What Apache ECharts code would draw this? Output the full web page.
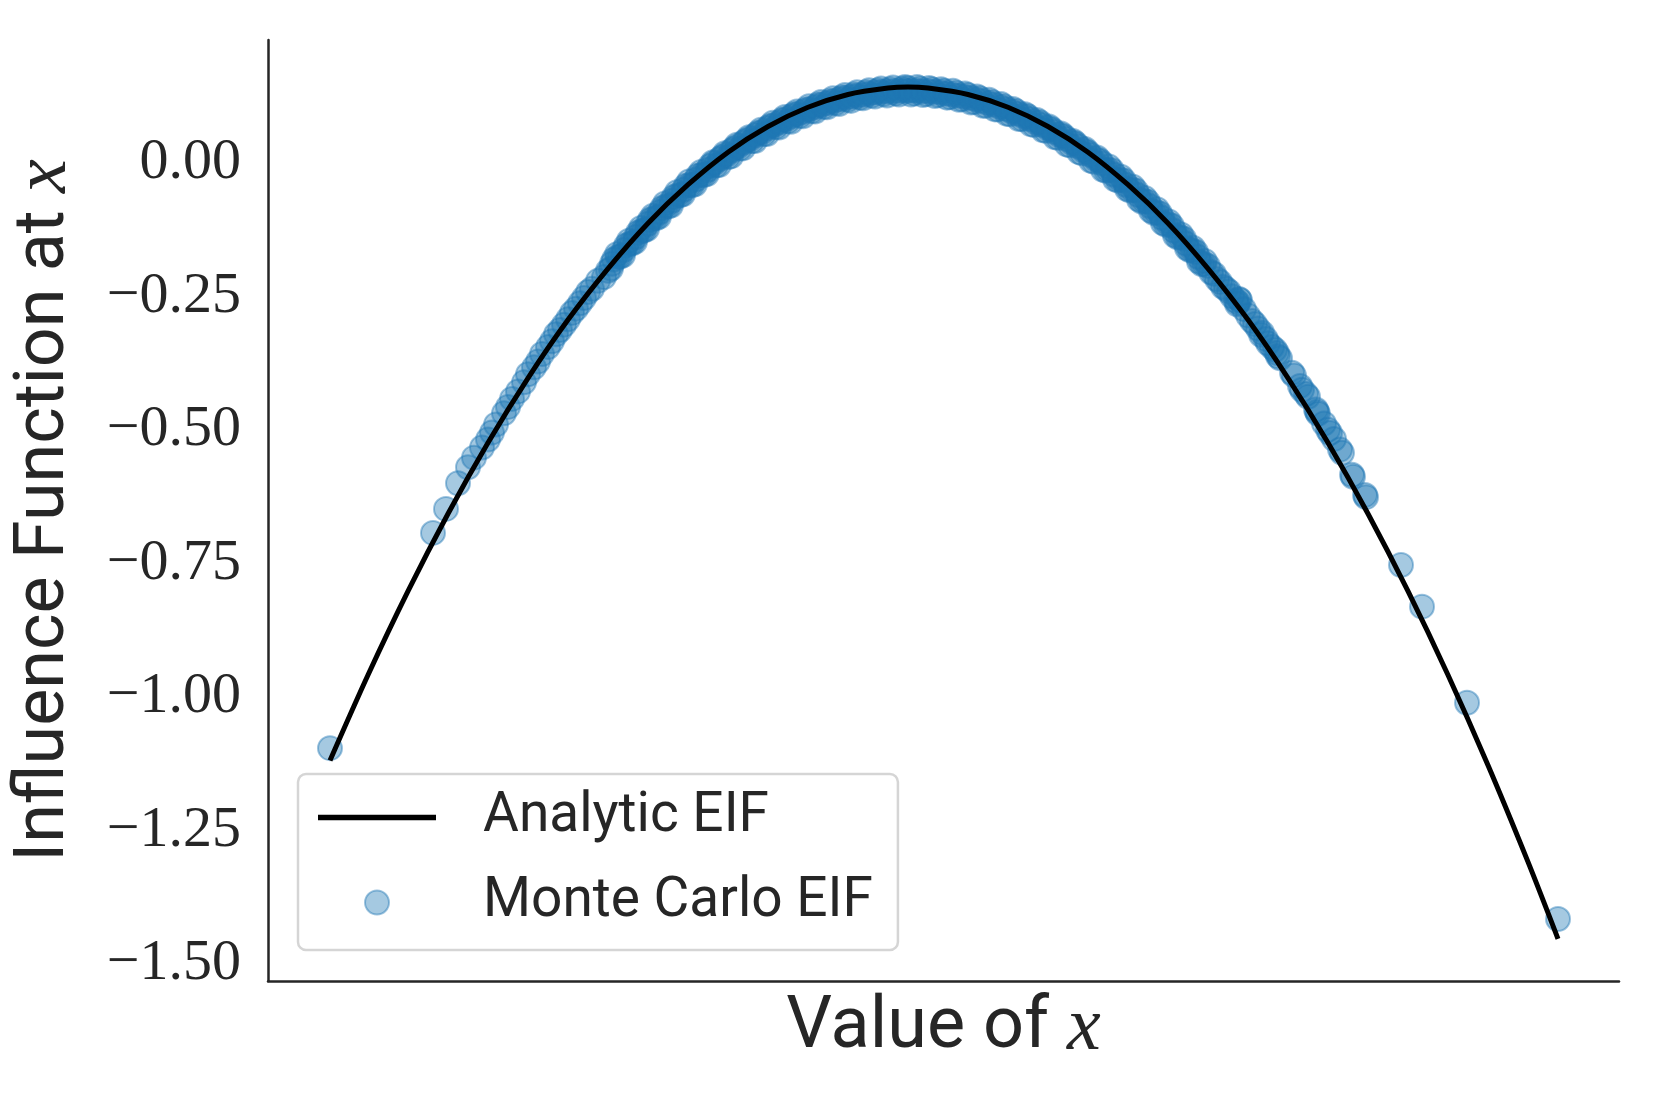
<!DOCTYPE html>
<html>
<head>
<meta charset="utf-8">
<title>Influence Function</title>
<script src="https://cdn.jsdelivr.net/npm/echarts@6.0.0/dist/echarts.min.js"></script>
<style>
  html, body { margin: 0; padding: 0; background: #fff; }
  #chart { width: 1661px; height: 1107px; }
</style>
</head>
<body>
<div id="chart"></div>
<script>
// analytic EIF curve
const analyticX = [-2.89, -2.7, -2.5, -2.3, -2.1, -1.9, -1.7, -1.5, -1.3, -1.1, -0.9, -0.7, -0.5, -0.3, -0.1, 0,
  0.1, 0.3, 0.5, 0.7, 0.9, 1.1, 1.3, 1.5, 1.7, 1.9, 2.1, 2.3, 2.5, 2.7, 2.9, 3.1, 3.25];
const analyticY = [-1.119, -0.959, -0.802, -0.657, -0.524, -0.403, -0.294, -0.198, -0.113, -0.041, 0.020, 0.068, 0.104, 0.128, 0.140, 0.142,
  0.140, 0.128, 0.104, 0.068, 0.020, -0.041, -0.113, -0.198, -0.294, -0.403, -0.524, -0.657, -0.802, -0.959, -1.128, -1.309, -1.453];

// Monte Carlo EIF samples (left tail, dense middle, right tail)
const monteCarloX = [
  // left tail
  -2.89, -2.375, -2.31, -2.25, -2.20, -2.17, -2.13, -2.10, -2.08, -2.06, -2.02, -2.00, -1.98, -1.95, -1.92, -1.90,
  -1.87, -1.85, -1.83, -1.80, -1.78, -1.76, -1.74, -1.72, -1.70, -1.68, -1.66, -1.64, -1.62, -1.60, -1.58, -1.55, -1.52,
  // middle, first pass
  -1.50, -1.47, -1.44, -1.41, -1.38, -1.35, -1.32, -1.29, -1.26, -1.23, -1.20, -1.17, -1.14, -1.11, -1.08, -1.05,
  -1.02, -0.99, -0.96, -0.93, -0.90, -0.87, -0.84, -0.81, -0.78, -0.75, -0.72, -0.69, -0.66, -0.63, -0.60, -0.57,
  -0.54, -0.51, -0.48, -0.45, -0.42, -0.39, -0.36, -0.33, -0.30, -0.27, -0.24, -0.21, -0.18, -0.15, -0.12, -0.09,
  -0.06, -0.03,
  0.00, 0.03, 0.06, 0.09, 0.12, 0.15, 0.18, 0.21, 0.24, 0.27, 0.30, 0.33, 0.36, 0.39, 0.42, 0.45, 0.48, 0.51,
  0.54, 0.57, 0.60, 0.63, 0.66, 0.69, 0.72, 0.75, 0.78, 0.81, 0.84, 0.87, 0.90, 0.93, 0.96, 0.99, 1.02, 1.05,
  1.08, 1.11, 1.14, 1.17, 1.20, 1.23, 1.26, 1.29, 1.32, 1.35, 1.38, 1.41, 1.44, 1.47, 1.50,
  // middle, second pass
  -1.485, -1.455, -1.425, -1.395, -1.365, -1.335, -1.305, -1.275, -1.245, -1.215, -1.185, -1.155, -1.125, -1.095,
  -1.065, -1.035, -1.005, -0.975, -0.945, -0.915, -0.885, -0.855, -0.825, -0.795, -0.765, -0.735, -0.705, -0.675,
  -0.645, -0.615, -0.585, -0.555, -0.525, -0.495, -0.465, -0.435, -0.405, -0.375, -0.345, -0.315, -0.285, -0.255,
  -0.225, -0.195, -0.165, -0.135, -0.105, -0.075, -0.045, -0.015,
  0.015, 0.045, 0.075, 0.105, 0.135, 0.165, 0.195, 0.225, 0.255, 0.285, 0.315, 0.345, 0.375, 0.405, 0.435, 0.465,
  0.495, 0.525, 0.555, 0.585, 0.615, 0.645, 0.675, 0.705, 0.735, 0.765, 0.795, 0.825, 0.855, 0.885, 0.915, 0.945,
  0.975, 1.005, 1.035, 1.065, 1.095, 1.125, 1.155, 1.185, 1.215, 1.245, 1.275, 1.305, 1.335, 1.365, 1.395, 1.425,
  1.455, 1.485,
  // middle, third pass
  -1.48, -1.45, -1.42, -1.39, -1.36, -1.33, -1.30, -1.27, -1.24, -1.21, -1.18, -1.15, -1.12, -1.09, -1.06, -1.03,
  -1.00, -0.97, -0.94, -0.91, -0.88, -0.85, -0.82, -0.79, -0.76, -0.73, -0.70, -0.67, -0.64, -0.61, -0.58, -0.55,
  -0.52, -0.49, -0.46, -0.43, -0.40, -0.37, -0.34, -0.31, -0.28, -0.25, -0.22, -0.19, -0.16, -0.13, -0.10, -0.07,
  -0.04, -0.01,
  0.01, 0.04, 0.07, 0.10, 0.13, 0.16, 0.19, 0.22, 0.25, 0.28, 0.31, 0.34, 0.37, 0.40, 0.43, 0.46, 0.49, 0.52,
  0.55, 0.58, 0.61, 0.64, 0.67, 0.70, 0.73, 0.76, 0.79, 0.82, 0.85, 0.88, 0.91, 0.94, 0.97, 1.00, 1.03, 1.06,
  1.09, 1.12, 1.15, 1.18, 1.21, 1.24, 1.27, 1.30, 1.33, 1.36, 1.39, 1.42, 1.45, 1.48,
  // right tail
  1.515, 1.53, 1.545, 1.56, 1.575, 1.59, 1.605, 1.62, 1.64, 1.645, 1.65, 1.655, 1.66, 1.68, 1.70, 1.72, 1.735, 1.75,
  1.765, 1.77, 1.79, 1.80, 1.82, 1.835, 1.845, 1.85, 1.86, 1.92, 1.93, 1.96, 1.97, 1.99, 2.00, 2.04, 2.045, 2.05,
  2.08, 2.10, 2.11, 2.13, 2.16, 2.17, 2.22, 2.225, 2.285, 2.29, 2.465, 2.57, 2.795, 3.25
];
const monteCarloY = [
  // left tail
  -1.096, -0.693, -0.648, -0.600, -0.570, -0.552, -0.533, -0.518, -0.505, -0.490, -0.469, -0.457, -0.442, -0.428, -0.411, -0.396,
  -0.383, -0.372, -0.358, -0.345, -0.334, -0.321, -0.313, -0.303, -0.293, -0.281, -0.273, -0.263, -0.253, -0.242, -0.236, -0.221, -0.214,
  // middle, first pass
  -0.202, -0.181, -0.176, -0.155, -0.151, -0.131, -0.127, -0.107, -0.104, -0.085, -0.082, -0.064, -0.061, -0.043, -0.042, -0.024,
  -0.023, -0.006, -0.005, 0.011, 0.011, 0.027, 0.027, 0.042, 0.041, 0.056, 0.054, 0.069, 0.067, 0.080, 0.078, 0.091,
  0.088, 0.100, 0.097, 0.109, 0.105, 0.116, 0.112, 0.123, 0.118, 0.128, 0.122, 0.132, 0.126, 0.136, 0.129, 0.138,
  0.130, 0.139,
  0.140, 0.130, 0.139, 0.129, 0.138, 0.127, 0.135, 0.123, 0.131, 0.119, 0.127, 0.114, 0.121, 0.107, 0.114, 0.100, 0.106, 0.091,
  0.097, 0.082, 0.087, 0.071, 0.076, 0.060, 0.063, 0.047, 0.050, 0.033, 0.036, 0.018, 0.020, 0.002, 0.004, -0.015, -0.014, -0.033,
  -0.033, -0.052, -0.052, -0.073, -0.073, -0.094, -0.095, -0.116, -0.118, -0.140, -0.142, -0.164, -0.167, -0.190, -0.193,
  // middle, second pass
  -0.198, -0.171, -0.173, -0.146, -0.148, -0.122, -0.124, -0.099, -0.101, -0.076, -0.080, -0.055, -0.059, -0.035,
  -0.040, -0.017, -0.021, 0.001, -0.004, 0.018, 0.012, 0.034, 0.027, 0.048, 0.041, 0.062, 0.054, 0.075,
  0.066, 0.086, 0.077, 0.096, 0.087, 0.106, 0.096, 0.114, 0.104, 0.121, 0.110, 0.127, 0.116, 0.132,
  0.121, 0.136, 0.124, 0.139, 0.126, 0.141, 0.128, 0.142,
  0.128, 0.142, 0.127, 0.140, 0.125, 0.138, 0.122, 0.135, 0.118, 0.130, 0.113, 0.124, 0.107, 0.118, 0.100, 0.110,
  0.092, 0.101, 0.082, 0.091, 0.072, 0.080, 0.061, 0.068, 0.048, 0.055, 0.034, 0.041, 0.020, 0.026, 0.004, 0.010,
  -0.013, -0.007, -0.031, -0.026, -0.049, -0.045, -0.069, -0.066, -0.090, -0.087, -0.113, -0.110, -0.136, -0.134, -0.160, -0.159,
  -0.185, -0.184,
  // middle, third pass
  -0.189, -0.176, -0.163, -0.151, -0.139, -0.127, -0.114, -0.103, -0.092, -0.081, -0.071, -0.060, -0.050, -0.041, -0.031, -0.022,
  -0.013, -0.001, 0.007, 0.015, 0.023, 0.031, 0.038, 0.045, 0.052, 0.058, 0.065, 0.071, 0.076, 0.082, 0.087, 0.092,
  0.096, 0.101, 0.105, 0.109, 0.112, 0.116, 0.119, 0.122, 0.124, 0.126, 0.128, 0.130, 0.132, 0.133, 0.134, 0.134,
  0.135, 0.135,
  0.135, 0.135, 0.134, 0.134, 0.133, 0.132, 0.130, 0.128, 0.126, 0.124, 0.122, 0.119, 0.116, 0.112, 0.109, 0.105, 0.101, 0.096,
  0.092, 0.087, 0.082, 0.076, 0.071, 0.065, 0.058, 0.052, 0.045, 0.038, 0.031, 0.023, 0.015, 0.007, -0.001, -0.013, -0.022, -0.031,
  -0.041, -0.050, -0.060, -0.071, -0.081, -0.092, -0.103, -0.114, -0.127, -0.139, -0.151, -0.163, -0.176, -0.189,
  // right tail
  -0.205, -0.208, -0.218, -0.223, -0.232, -0.236, -0.241, -0.250, -0.258, -0.265, -0.262, -0.255, -0.257, -0.274, -0.286, -0.296, -0.302, -0.310,
  -0.322, -0.318, -0.330, -0.338, -0.345, -0.350, -0.356, -0.362, -0.366, -0.393, -0.398, -0.418, -0.425, -0.433, -0.438, -0.462, -0.466, -0.470,
  -0.488, -0.500, -0.506, -0.517, -0.537, -0.543, -0.584, -0.588, -0.622, -0.626, -0.753, -0.831, -1.011, -1.416
];

const yTickValues = [0, -0.25, -0.5, -0.75, -1.0, -1.25, -1.5];

const textColor = '#262626';
const sansFont = 'Roboto';
const mathFont = 'Liberation Serif';

const analyticData = analyticX.map((x, i) => [x, analyticY[i]]);
const monteCarloData = monteCarloX.map((x, i) => [x, monteCarloY[i]]);

let myChart = echarts.init(document.getElementById('chart'));
myChart.setOption({
  animation: false,
  backgroundColor: '#ffffff',
  grid: {
    left: 268,
    right: 42,
    top: 40,
    bottom: 126,
    containLabel: false,
    outerBoundsMode: 'none'
  },
  xAxis: {
    type: 'value',
    min: -3.2,
    max: 3.555,
    name: 'Value of {m|x}',
    nameLocation: 'middle',
    nameGap: 10,
    nameTextStyle: {
      color: textColor,
      fontFamily: sansFont,
      fontSize: 72,
      rich: {
        m: { fontFamily: mathFont, fontStyle: 'italic', fontSize: 76, color: textColor }
      }
    },
    axisLine: { show: true, onZero: false, lineStyle: { color: textColor, width: 2.5 } },
    axisTick: { show: false },
    axisLabel: { show: false },
    splitLine: { show: false }
  },
  yAxis: {
    type: 'value',
    min: -1.532,
    max: 0.23,
    name: 'Influence Function at {m|x}',
    nameLocation: 'middle',
    nameGap: 185,
    nameTextStyle: {
      color: textColor,
      fontFamily: sansFont,
      fontSize: 70,
      rich: {
        m: { fontFamily: mathFont, fontStyle: 'italic', fontSize: 76, color: textColor }
      }
    },
    axisLine: { show: true, onZero: false, lineStyle: { color: textColor, width: 2.5 } },
    axisTick: { show: false },
    splitLine: { show: false },
    axisLabel: {
      customValues: yTickValues,
      margin: 27,
      color: textColor,
      fontFamily: mathFont,
      fontSize: 58,
      formatter: function (v) {
        return (v < 0 ? '\u2212' : '') + Math.abs(v).toFixed(2);
      }
    }
  },
  legend: {
    orient: 'vertical',
    left: 298,
    top: 774,
    padding: [16, 25, 20, 20],
    itemWidth: 118,
    itemHeight: 24,
    itemGap: 30,
    selectedMode: false,
    backgroundColor: '#ffffff',
    borderColor: '#d5d5d5',
    borderWidth: 2.5,
    borderRadius: 8,
    textStyle: {
      color: textColor,
      fontFamily: sansFont,
      fontSize: 55,
      padding: [0, 0, 0, 42]
    },
    data: [
      { name: 'Analytic EIF', icon: 'path://M0,0 L118,0 L118,5.5 L0,5.5 Z' },
      { name: 'Monte Carlo EIF', icon: 'circle' }
    ]
  },
  series: [
    {
      name: 'Monte Carlo EIF',
      type: 'scatter',
      z: 2,
      symbol: 'circle',
      symbolSize: 24,
      data: monteCarloData,
      itemStyle: {
        color: 'rgba(31,119,180,0.5)',
        borderColor: 'rgba(31,119,180,0.55)',
        borderWidth: 2
      }
    },
    {
      name: 'Analytic EIF',
      type: 'line',
      z: 3,
      symbol: 'none',
      smooth: 0.3,
      data: analyticData,
      itemStyle: { color: '#000000', borderWidth: 0 },
      lineStyle: { color: '#000000', width: 5 }
    }
  ]
});
</script>
</body>
</html>
